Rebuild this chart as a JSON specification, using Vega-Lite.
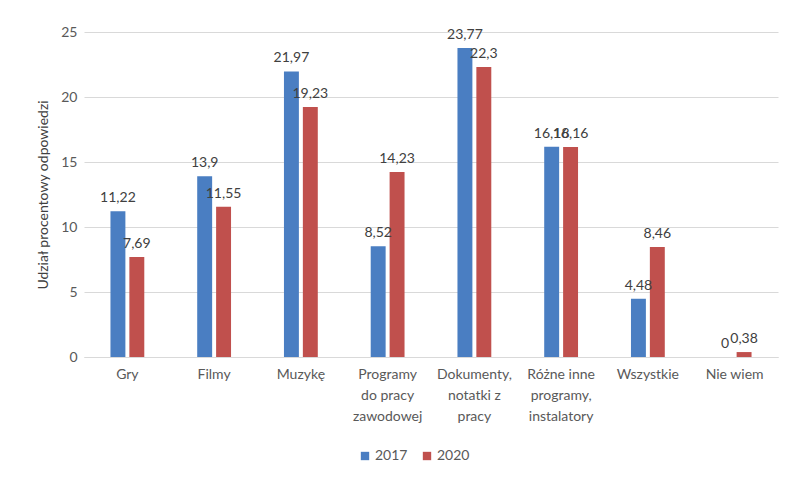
{
  "$schema": "https://vega.github.io/schema/vega-lite/v6.json",
  "width": 694,
  "height": 325,
  "autosize": {"type": "none"},
  "padding": {"left": 84, "top": 32, "right": 22, "bottom": 121},
  "background": "white",
  "config": {
    "font": "Lato",
    "view": {"stroke": null},
    "locale": {"number": {"decimal": ",", "thousands": " ", "grouping": [3], "currency": ["", " zł"]}},
    "axis": {"labelFont": "Lato", "titleFont": "Lato", "labelColor": "#595959", "titleColor": "#404040"}
  },
  "data": {
    "values": [
      {"kategoria": "Gry", "rok": "2017", "wartosc": 11.22},
      {"kategoria": "Gry", "rok": "2020", "wartosc": 7.69},
      {"kategoria": "Filmy", "rok": "2017", "wartosc": 13.9},
      {"kategoria": "Filmy", "rok": "2020", "wartosc": 11.55},
      {"kategoria": "Muzykę", "rok": "2017", "wartosc": 21.97},
      {"kategoria": "Muzykę", "rok": "2020", "wartosc": 19.23},
      {"kategoria": "Programy do pracy zawodowej", "rok": "2017", "wartosc": 8.52},
      {"kategoria": "Programy do pracy zawodowej", "rok": "2020", "wartosc": 14.23},
      {"kategoria": "Dokumenty, notatki z pracy", "rok": "2017", "wartosc": 23.77},
      {"kategoria": "Dokumenty, notatki z pracy", "rok": "2020", "wartosc": 22.3},
      {"kategoria": "Różne inne programy, instalatory", "rok": "2017", "wartosc": 16.18},
      {"kategoria": "Różne inne programy, instalatory", "rok": "2020", "wartosc": 16.16},
      {"kategoria": "Wszystkie", "rok": "2017", "wartosc": 4.48},
      {"kategoria": "Wszystkie", "rok": "2020", "wartosc": 8.46},
      {"kategoria": "Nie wiem", "rok": "2017", "wartosc": 0},
      {"kategoria": "Nie wiem", "rok": "2020", "wartosc": 0.38}
    ]
  },
  "encoding": {
    "x": {
      "field": "kategoria",
      "type": "nominal",
      "sort": null,
      "scale": {"paddingInner": 0.61, "paddingOuter": 0.305},
      "axis": {
        "title": null,
        "labelAngle": 0,
        "labelFontSize": 14,
        "labelPadding": 10,
        "labelDx": 8,
        "labelLineHeight": 21,
        "ticks": false,
        "domainColor": "#d9d9d9",
        "labelExpr": "datum.value == 'Programy do pracy zawodowej' ? ['Programy', 'do pracy', 'zawodowej'] : datum.value == 'Dokumenty, notatki z pracy' ? ['Dokumenty,', 'notatki z', 'pracy'] : datum.value == 'Różne inne programy, instalatory' ? ['Różne inne', 'programy,', 'instalatory'] : datum.value"
      }
    },
    "xOffset": {"field": "rok", "type": "nominal", "scale": {"paddingInner": 0.21}},
    "y": {
      "field": "wartosc",
      "type": "quantitative",
      "scale": {"domain": [0, 25]},
      "axis": {
        "title": "Udział procentowy odpowiedzi",
        "titleFontSize": 14,
        "titleFontWeight": "normal",
        "titlePadding": 10,
        "labelFontSize": 14,
        "labelPadding": 7,
        "values": [0, 5, 10, 15, 20, 25],
        "format": "d",
        "domain": false,
        "ticks": false,
        "gridColor": "#d9d9d9"
      }
    }
  },
  "layer": [
    {
      "mark": {"type": "bar"},
      "encoding": {
        "color": {
          "field": "rok",
          "type": "nominal",
          "scale": {"domain": ["2017", "2020"], "range": ["#4a7ec2", "#c0504d"]},
          "legend": {
            "title": null,
            "orient": "none",
            "direction": "horizontal",
            "legendX": 274,
            "legendY": 417,
            "symbolType": "square",
            "symbolSize": 70,
            "symbolStrokeWidth": 0,
            "labelFontSize": 14,
            "labelColor": "#595959",
            "labelFont": "Lato",
            "columnPadding": 12,
            "labelOffset": 3
          }
        }
      }
    },
    {
      "mark": {"type": "text", "baseline": "bottom", "dy": -6, "fontSize": 14, "color": "#404040"},
      "encoding": {
        "text": {"field": "wartosc", "type": "quantitative", "format": "~g"}
      }
    }
  ]
}
